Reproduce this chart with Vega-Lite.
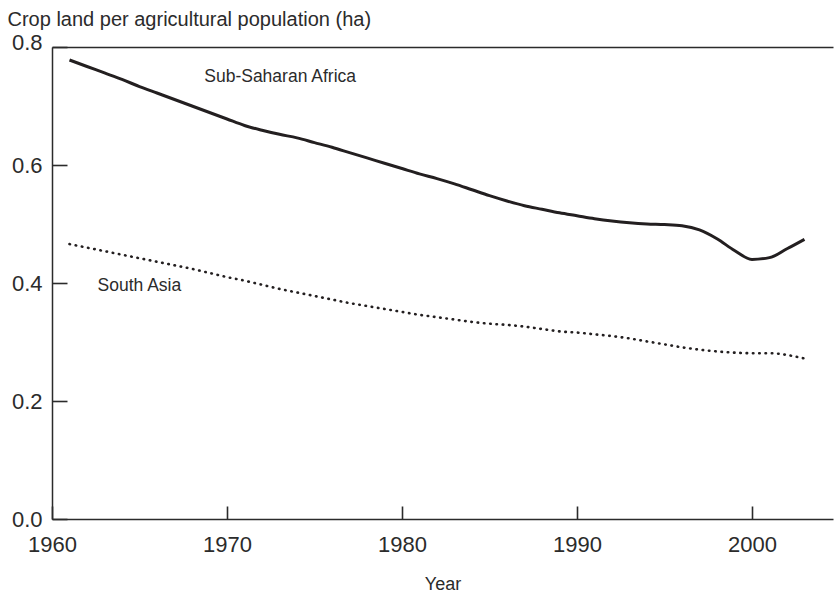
{
  "$schema": "https://vega.github.io/schema/vega-lite/v6.json",
  "width": 781,
  "height": 472,
  "autosize": {"type": "none"},
  "padding": {"left": 52, "top": 47, "right": 2, "bottom": 73},
  "background": "white",
  "config": {
    "view": {"stroke": null},
    "font": "Liberation Sans",
    "axis": {"grid": false, "labelFlush": false, "domainColor": "#2b2b2b", "tickColor": "#2b2b2b", "labelColor": "#2b2b2b", "titleColor": "#2b2b2b", "labelFont": "Liberation Sans", "titleFont": "Liberation Sans", "titleFontWeight": "normal", "domainWidth": 1.5, "tickWidth": 1.6}
  },
  "datasets": {
    "series": [
      {"year": 1961, "region": "Sub-Saharan Africa", "value": 0.778},
      {"year": 1962, "region": "Sub-Saharan Africa", "value": 0.767},
      {"year": 1963, "region": "Sub-Saharan Africa", "value": 0.756},
      {"year": 1964, "region": "Sub-Saharan Africa", "value": 0.745},
      {"year": 1965, "region": "Sub-Saharan Africa", "value": 0.733},
      {"year": 1966, "region": "Sub-Saharan Africa", "value": 0.722},
      {"year": 1967, "region": "Sub-Saharan Africa", "value": 0.711},
      {"year": 1968, "region": "Sub-Saharan Africa", "value": 0.700},
      {"year": 1969, "region": "Sub-Saharan Africa", "value": 0.689},
      {"year": 1970, "region": "Sub-Saharan Africa", "value": 0.678},
      {"year": 1971, "region": "Sub-Saharan Africa", "value": 0.667},
      {"year": 1972, "region": "Sub-Saharan Africa", "value": 0.659},
      {"year": 1973, "region": "Sub-Saharan Africa", "value": 0.652},
      {"year": 1974, "region": "Sub-Saharan Africa", "value": 0.646},
      {"year": 1975, "region": "Sub-Saharan Africa", "value": 0.638},
      {"year": 1976, "region": "Sub-Saharan Africa", "value": 0.630},
      {"year": 1977, "region": "Sub-Saharan Africa", "value": 0.621},
      {"year": 1978, "region": "Sub-Saharan Africa", "value": 0.612},
      {"year": 1979, "region": "Sub-Saharan Africa", "value": 0.603},
      {"year": 1980, "region": "Sub-Saharan Africa", "value": 0.594},
      {"year": 1981, "region": "Sub-Saharan Africa", "value": 0.585},
      {"year": 1982, "region": "Sub-Saharan Africa", "value": 0.577},
      {"year": 1983, "region": "Sub-Saharan Africa", "value": 0.568},
      {"year": 1984, "region": "Sub-Saharan Africa", "value": 0.558},
      {"year": 1985, "region": "Sub-Saharan Africa", "value": 0.548},
      {"year": 1986, "region": "Sub-Saharan Africa", "value": 0.539},
      {"year": 1987, "region": "Sub-Saharan Africa", "value": 0.531},
      {"year": 1988, "region": "Sub-Saharan Africa", "value": 0.525},
      {"year": 1989, "region": "Sub-Saharan Africa", "value": 0.519},
      {"year": 1990, "region": "Sub-Saharan Africa", "value": 0.514},
      {"year": 1991, "region": "Sub-Saharan Africa", "value": 0.509},
      {"year": 1992, "region": "Sub-Saharan Africa", "value": 0.505},
      {"year": 1993, "region": "Sub-Saharan Africa", "value": 0.502},
      {"year": 1994, "region": "Sub-Saharan Africa", "value": 0.500},
      {"year": 1995, "region": "Sub-Saharan Africa", "value": 0.499},
      {"year": 1996, "region": "Sub-Saharan Africa", "value": 0.497},
      {"year": 1997, "region": "Sub-Saharan Africa", "value": 0.490},
      {"year": 1998, "region": "Sub-Saharan Africa", "value": 0.475},
      {"year": 1999, "region": "Sub-Saharan Africa", "value": 0.455},
      {"year": 2000, "region": "Sub-Saharan Africa", "value": 0.440},
      {"year": 2001, "region": "Sub-Saharan Africa", "value": 0.443},
      {"year": 2002, "region": "Sub-Saharan Africa", "value": 0.458},
      {"year": 2003, "region": "Sub-Saharan Africa", "value": 0.474},
      {"year": 1961, "region": "South Asia", "value": 0.466},
      {"year": 1962, "region": "South Asia", "value": 0.460},
      {"year": 1963, "region": "South Asia", "value": 0.454},
      {"year": 1964, "region": "South Asia", "value": 0.448},
      {"year": 1965, "region": "South Asia", "value": 0.442},
      {"year": 1966, "region": "South Asia", "value": 0.436},
      {"year": 1967, "region": "South Asia", "value": 0.430},
      {"year": 1968, "region": "South Asia", "value": 0.424},
      {"year": 1969, "region": "South Asia", "value": 0.417},
      {"year": 1970, "region": "South Asia", "value": 0.410},
      {"year": 1971, "region": "South Asia", "value": 0.404},
      {"year": 1972, "region": "South Asia", "value": 0.397},
      {"year": 1973, "region": "South Asia", "value": 0.390},
      {"year": 1974, "region": "South Asia", "value": 0.384},
      {"year": 1975, "region": "South Asia", "value": 0.378},
      {"year": 1976, "region": "South Asia", "value": 0.372},
      {"year": 1977, "region": "South Asia", "value": 0.366},
      {"year": 1978, "region": "South Asia", "value": 0.361},
      {"year": 1979, "region": "South Asia", "value": 0.356},
      {"year": 1980, "region": "South Asia", "value": 0.351},
      {"year": 1981, "region": "South Asia", "value": 0.346},
      {"year": 1982, "region": "South Asia", "value": 0.342},
      {"year": 1983, "region": "South Asia", "value": 0.338},
      {"year": 1984, "region": "South Asia", "value": 0.334},
      {"year": 1985, "region": "South Asia", "value": 0.331},
      {"year": 1986, "region": "South Asia", "value": 0.329},
      {"year": 1987, "region": "South Asia", "value": 0.326},
      {"year": 1988, "region": "South Asia", "value": 0.322},
      {"year": 1989, "region": "South Asia", "value": 0.318},
      {"year": 1990, "region": "South Asia", "value": 0.316},
      {"year": 1991, "region": "South Asia", "value": 0.313},
      {"year": 1992, "region": "South Asia", "value": 0.310},
      {"year": 1993, "region": "South Asia", "value": 0.306},
      {"year": 1994, "region": "South Asia", "value": 0.301},
      {"year": 1995, "region": "South Asia", "value": 0.296},
      {"year": 1996, "region": "South Asia", "value": 0.291},
      {"year": 1997, "region": "South Asia", "value": 0.287},
      {"year": 1998, "region": "South Asia", "value": 0.284},
      {"year": 1999, "region": "South Asia", "value": 0.282},
      {"year": 2000, "region": "South Asia", "value": 0.281},
      {"year": 2001, "region": "South Asia", "value": 0.281},
      {"year": 2002, "region": "South Asia", "value": 0.278},
      {"year": 2003, "region": "South Asia", "value": 0.272}
    ],
    "labels": [
      {"year": 1968.7, "value": 0.749, "text": "Sub-Saharan Africa"},
      {"year": 1962.6, "value": 0.395, "text": "South Asia"}
    ]
  },
  "resolve": {"axis": {"x": "independent"}},
  "layer": [
    {
      "data": {"name": "series"},
      "transform": [{"filter": "datum.region == 'Sub-Saharan Africa'"}],
      "mark": {"type": "line", "interpolate": "monotone", "color": "#231f20", "strokeWidth": 3},
      "encoding": {
        "x": {
          "field": "year", "type": "quantitative",
          "scale": {"domain": [1960, 2004.63], "nice": false, "zero": false},
          "axis": {
            "title": "Year", "values": [1960, 1970, 1980, 1990, 2000], "format": "d",
            "tickSize": -13, "labelPadding": 28, "labelFontSize": 22,
            "titleFontSize": 18, "titleBaseline": "alphabetic", "titleY": 70
          }
        },
        "y": {
          "field": "value", "type": "quantitative",
          "scale": {"domain": [0, 0.8], "nice": false},
          "axis": {
            "title": "Crop land per agricultural population (ha)",
            "values": [0, 0.2, 0.4, 0.6, 0.8], "format": ".1f",
            "tickSize": -15, "labelPadding": 25, "labelFontSize": 22,
            "labelOffset": {"condition": {"test": "datum.value > 0.75", "value": -5}, "value": 0},
            "titleAngle": 0, "titleAlign": "left", "titleBaseline": "alphabetic",
            "titleX": -45, "titleY": -22, "titleFontSize": 20
          }
        }
      }
    },
    {
      "data": {"name": "series"},
      "transform": [{"filter": "datum.region == 'South Asia'"}],
      "mark": {"type": "line", "interpolate": "monotone", "color": "#231f20", "strokeWidth": 2.6, "strokeCap": "round", "strokeDash": [0.5, 5.8]},
      "encoding": {
        "x": {
          "field": "year", "type": "quantitative",
          "axis": {"orient": "top", "labels": false, "ticks": false, "title": null, "domain": true}
        },
        "y": {"field": "value", "type": "quantitative"}
      }
    },
    {
      "data": {"name": "labels"},
      "mark": {"type": "text", "align": "left", "baseline": "middle", "fontSize": 17.5, "color": "#2b2b2b", "font": "Liberation Sans"},
      "encoding": {
        "x": {"field": "year", "type": "quantitative", "axis": null},
        "y": {"field": "value", "type": "quantitative"},
        "text": {"field": "text"}
      }
    }
  ]
}
